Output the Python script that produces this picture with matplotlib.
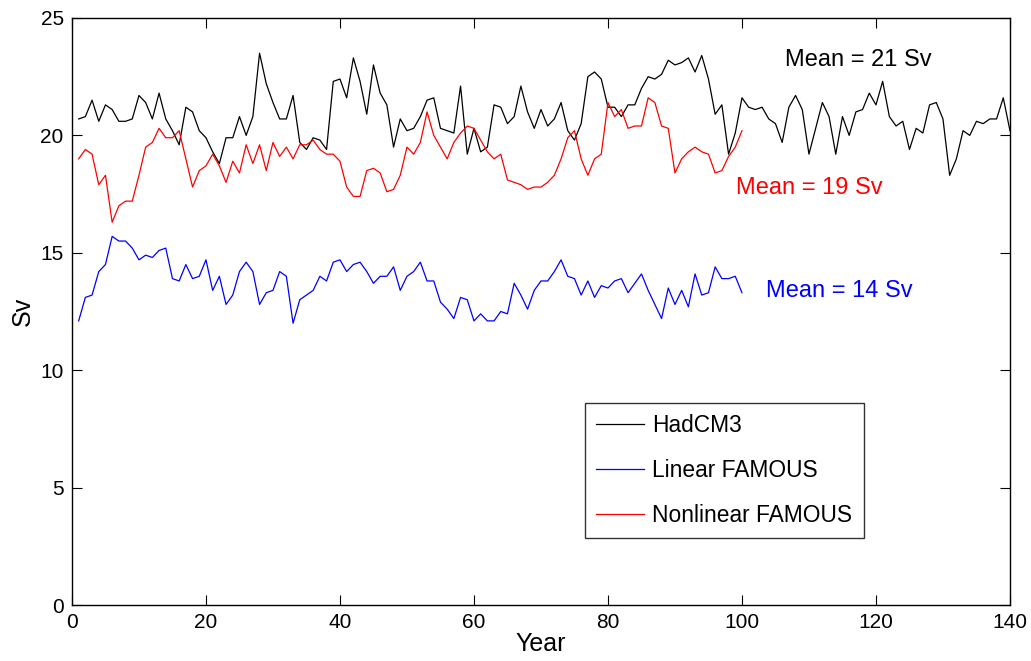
"""
AMOC strength: HadCM3 vs linear and nonlinear FAMOUS emulations.
"""

import numpy as np
import matplotlib
matplotlib.use("Agg")
import matplotlib.pyplot as plt

plt.rcParams["font.family"] = ["Liberation Sans", "DejaVu Sans"]

# HadCM3, years 1-140
hadcm3 = [
    20.7, 20.8, 21.5, 20.6, 21.3, 21.1, 20.6, 20.6, 20.7, 21.7,
    21.4, 20.7, 21.8, 20.7, 20.2, 19.6, 21.2, 21.0, 20.2, 19.9,
    19.3, 18.8, 19.9, 19.9, 20.8, 20.0, 20.8, 23.5, 22.2, 21.4,
    20.7, 20.7, 21.7, 19.7, 19.4, 19.9, 19.8, 19.4, 22.3, 22.4,
    21.6, 23.3, 22.3, 20.9, 23.0, 21.8, 21.3, 19.5, 20.7, 20.2,
    20.3, 20.8, 21.5, 21.6, 20.3, 20.2, 20.1, 22.1, 19.2, 20.3,
    19.3, 19.5, 21.3, 21.2, 20.5, 20.8, 22.1, 21.0, 20.3, 21.1,
    20.4, 20.7, 21.4, 20.2, 19.8, 20.5, 22.5, 22.7, 22.4, 21.2,
    21.2, 20.8, 21.3, 21.3, 22.0, 22.5, 22.4, 22.6, 23.2, 23.0,
    23.1, 23.3, 22.7, 23.4, 22.4, 20.9, 21.3, 19.2, 20.1, 21.6,
    21.2, 21.1, 21.2, 20.7, 20.5, 19.7, 21.2, 21.7, 21.1, 19.2,
    20.3, 21.4, 20.8, 19.2, 20.8, 20.0, 21.0, 21.1, 21.8, 21.3,
    22.3, 20.8, 20.4, 20.6, 19.4, 20.3, 20.1, 21.3, 21.4, 20.7,
    18.3, 19.0, 20.2, 20.0, 20.6, 20.5, 20.7, 20.7, 21.6, 20.2,
]

# Linear FAMOUS, years 1-100
linear = [
    12.1, 13.1, 13.2, 14.2, 14.5, 15.7, 15.5, 15.5, 15.2, 14.7,
    14.9, 14.8, 15.1, 15.2, 13.9, 13.8, 14.5, 13.9, 14.0, 14.7,
    13.4, 14.0, 12.8, 13.2, 14.2, 14.6, 14.2, 12.8, 13.3, 13.4,
    14.2, 14.0, 12.0, 13.0, 13.2, 13.4, 14.0, 13.8, 14.6, 14.7,
    14.2, 14.5, 14.6, 14.2, 13.7, 14.0, 14.0, 14.4, 13.4, 14.0,
    14.2, 14.6, 13.8, 13.8, 12.9, 12.6, 12.2, 13.1, 13.0, 12.1,
    12.4, 12.1, 12.1, 12.5, 12.4, 13.7, 13.2, 12.6, 13.4, 13.8,
    13.8, 14.2, 14.7, 14.0, 13.9, 13.2, 13.8, 13.1, 13.6, 13.5,
    13.8, 13.9, 13.3, 13.7, 14.1, 13.4, 12.8, 12.2, 13.5, 12.8,
    13.4, 12.7, 14.1, 13.2, 13.3, 14.4, 13.9, 13.9, 14.0, 13.3,
]

# Nonlinear FAMOUS, years 1-100
nonlinear = [
    19.0, 19.4, 19.2, 17.9, 18.3, 16.3, 17.0, 17.2, 17.2, 18.3,
    19.5, 19.7, 20.3, 19.9, 19.9, 20.2, 19.0, 17.8, 18.5, 18.7,
    19.2, 18.7, 18.0, 18.9, 18.4, 19.6, 18.8, 19.6, 18.5, 19.7,
    19.1, 19.5, 19.0, 19.6, 19.6, 19.8, 19.4, 19.2, 19.2, 18.9,
    17.8, 17.4, 17.4, 18.5, 18.6, 18.4, 17.6, 17.7, 18.3, 19.5,
    19.2, 19.7, 21.0, 20.0, 19.5, 19.0, 19.7, 20.1, 20.4, 20.3,
    19.8, 19.3, 19.0, 19.2, 18.1, 18.0, 17.9, 17.7, 17.8, 17.8,
    18.0, 18.3, 19.0, 19.9, 20.2, 19.0, 18.3, 19.0, 19.2, 21.4,
    20.8, 21.1, 20.3, 20.4, 20.4, 21.6, 21.4, 20.4, 20.3, 18.4,
    19.0, 19.3, 19.5, 19.3, 19.2, 18.4, 18.5, 19.1, 19.5, 20.2,
]

years_long = np.arange(1, len(hadcm3) + 1)
years_short = np.arange(1, len(linear) + 1)

fig = plt.figure(figsize=(10.31, 6.61), dpi=100)
ax = fig.add_axes([0.0698, 0.0847, 0.9098, 0.8881])

ax.plot(years_long, hadcm3, color="black", lw=0.9, label="HadCM3")
ax.plot(years_short, linear, color="blue", lw=0.9, label="Linear FAMOUS")
ax.plot(years_short, nonlinear, color="red", lw=0.9, label="Nonlinear FAMOUS")

ax.set_xlim(0, 140)
ax.set_ylim(0, 25)
ax.set_xticks(range(0, 141, 20))
ax.set_yticks(range(0, 26, 5))
ax.tick_params(direction="in", length=7, width=0.8, top=True, right=True,
               labelsize=15, pad=6)
for spine in ax.spines.values():
    spine.set_linewidth(1.0)

ax.set_xlabel("Year", fontsize=18, labelpad=0)
ax.set_ylabel("Sv", fontsize=18, labelpad=4)

# mean annotations
ax.text(117.3, 23.2, "Mean = 21 Sv", color="black", fontsize=17,
        ha="center", va="center")
ax.text(110.1, 17.76, "Mean = 19 Sv", color="red", fontsize=17,
        ha="center", va="center")
ax.text(114.5, 13.37, "Mean = 14 Sv", color="blue", fontsize=17,
        ha="center", va="center")

leg = ax.legend(loc="upper left", bbox_to_anchor=(0.547, 0.344), fontsize=16.4,
                frameon=True, fancybox=False, edgecolor="black",
                handlelength=2.1, handletextpad=0.35, labelspacing=0.95,
                borderpad=0.5, borderaxespad=0)
leg.get_frame().set_linewidth(1.0)

plt.savefig("out.png", dpi=100)
plt.close()
